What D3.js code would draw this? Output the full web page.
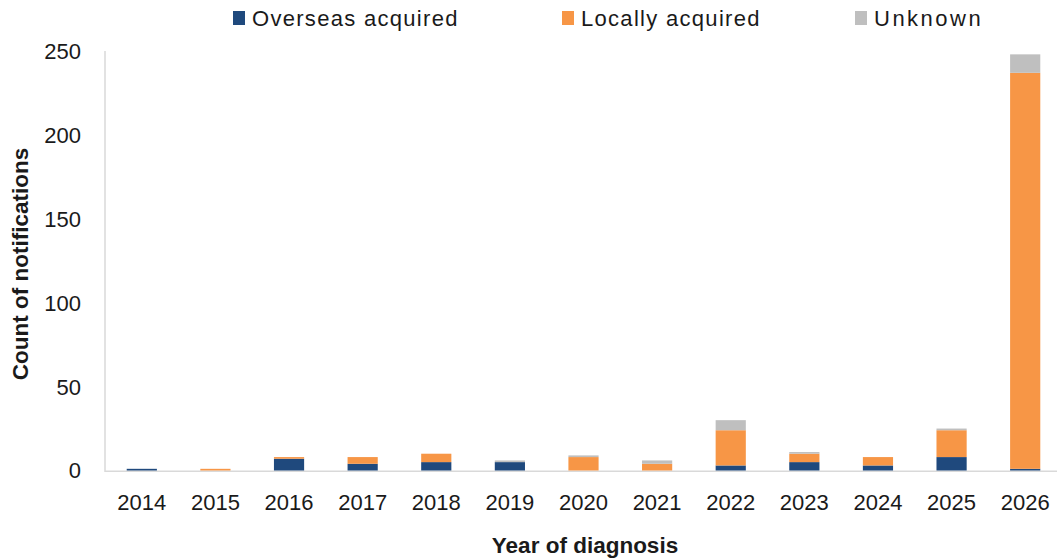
<!DOCTYPE html>
<html>
<head>
<meta charset="utf-8">
<script src="https://cdnjs.cloudflare.com/ajax/libs/d3/7.8.5/d3.min.js"></script>
<style>
	html, body { margin: 0; padding: 0; background: #fff; }
	svg { display: block; font-family: 'Liberation Sans', Arial, sans-serif; }
	.tick-label { font-size: 22px; fill: #1a1a1a; }
	.axis-title { font-size: 22.5px; font-weight: bold; fill: #1a1a1a; }
	.legend-label { font-size: 22px; fill: #1a1a1a; letter-spacing: 1.3px; }
</style>
</head>
<body>
<svg id="chart" width="1057" height="558"></svg>
<script>
const years = ['2014', '2015', '2016', '2017', '2018', '2019', '2020', '2021', '2022', '2023', '2024', '2025', '2026'];
const overseas = [1, 0, 7, 4, 5, 5, 0, 0, 3, 5, 3, 8, 1];
const locally = [0, 1, 1, 4, 5, 0, 8, 4, 21, 5, 5, 16, 236];
const unknown = [0, 0, 0, 0, 0, 1, 1, 2, 6, 1, 0, 1, 11];
const seriesNames = ['Overseas acquired', 'Locally acquired', 'Unknown'];
const seriesKeys = ['overseas', 'locally', 'unknown'];
const yTicks = [0, 50, 100, 150, 200, 250];

const colors = {
	overseas: '#1f497d',
	locally: '#f79646',
	unknown: '#bfbfbf'
};

const svg = d3.select('#chart');
const plot = { left: 105, right: 1062, top: 51, bottom: 470.5 };

const rows = years.map((y, i) => ({
	year: y,
	overseas: overseas[i],
	locally: locally[i],
	unknown: unknown[i]
}));

const x = d3.scaleBand()
	.domain(years)
	.range([plot.left, plot.right])
	.paddingInner(0.59)
	.paddingOuter(0.295);

const y = d3.scaleLinear()
	.domain([0, 250])
	.range([plot.bottom, plot.top]);

const layers = d3.stack().keys(seriesKeys)(rows);

// axes lines (drawn under the bars)
const axisColor = '#d9d9d9';
svg.append('line')
	.attr('x1', plot.left).attr('x2', plot.left)
	.attr('y1', y(250)).attr('y2', plot.bottom + 1.5)
	.attr('stroke', axisColor).attr('stroke-width', 1.5);

svg.append('line')
	.attr('x1', plot.left).attr('x2', 1057)
	.attr('y1', plot.bottom + 0.75).attr('y2', plot.bottom + 0.75)
	.attr('stroke', axisColor).attr('stroke-width', 1.5);

// bars
svg.append('g').classed('bars', true)
	.selectAll('g')
	.data(layers)
	.enter()
	.append('g')
		.style('fill', d => colors[d.key])
	.selectAll('rect')
	.data(d => d.filter(s => s[1] > s[0]))
	.enter()
	.append('rect')
		.attr('x', d => x(d.data.year))
		.attr('y', d => y(d[1]))
		.attr('width', x.bandwidth())
		.attr('height', d => y(d[0]) - y(d[1]));

// y tick labels
svg.append('g')
	.selectAll('text')
	.data(yTicks)
	.enter()
	.append('text')
		.classed('tick-label', true)
		.attr('x', 81)
		.attr('y', d => y(d))
		.attr('dy', '0.36em')
		.attr('text-anchor', 'end')
		.text(d => d);

// x tick labels
svg.append('g')
	.selectAll('text')
	.data(years)
	.enter()
	.append('text')
		.classed('tick-label', true)
		.attr('x', d => x(d) + x.bandwidth() / 2)
		.attr('y', 510)
		.attr('text-anchor', 'middle')
		.text(d => d);

// axis titles
svg.append('text')
	.classed('axis-title', true)
	.attr('x', 585)
	.attr('y', 553)
	.attr('text-anchor', 'middle')
	.text('Year of diagnosis');

svg.append('text')
	.classed('axis-title', true)
	.attr('transform', 'translate(28, 264) rotate(-90)')
	.attr('text-anchor', 'middle')
	.text('Count of notifications');

// legend
const legendX = [233, 562, 855];
const legend = svg.append('g').classed('legend', true)
	.selectAll('g')
	.data(seriesKeys)
	.enter()
	.append('g')
		.attr('transform', (d, i) => `translate(${legendX[i]}, 0)`);

legend.append('rect')
	.attr('x', 0)
	.attr('y', 11)
	.attr('width', 12)
	.attr('height', 14)
	.style('fill', d => colors[d]);

legend.append('text')
	.classed('legend-label', true)
	.attr('x', 19)
	.attr('y', 26)
	.style('letter-spacing', (d, i) => i === 2 ? '2.5px' : null)
	.text((d, i) => seriesNames[i]);
</script>
</body>
</html>
